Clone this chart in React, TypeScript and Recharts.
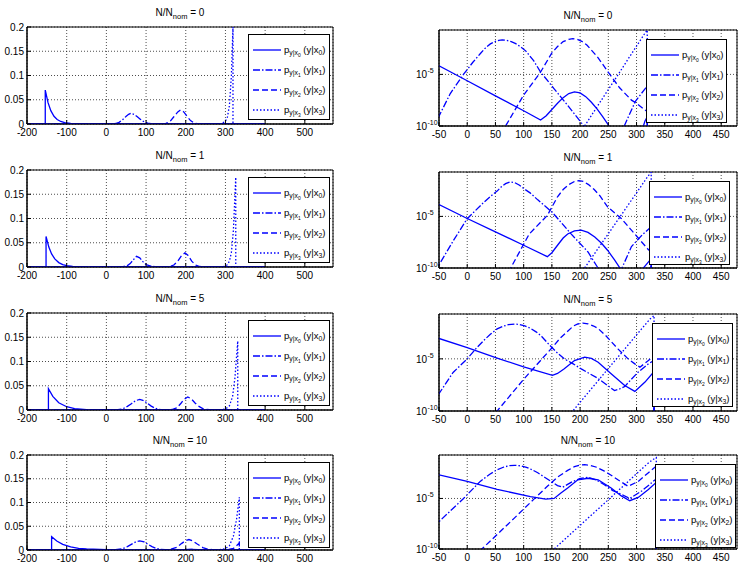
import React from "react";
import {CartesianGrid, Line, LineChart, ReferenceArea, XAxis, YAxis} from "recharts";

type Pt = [number, number];

// N/Nnom values, one per row
const ratios = ["0", "1", "5", "10"];

const linXTicks = [-200, -100, 0, 100, 200, 300, 400, 500];
const linYTicks = [0, 0.05, 0.1, 0.15, 0.2];
const logXTicks = [-50, 0, 50, 100, 150, 200, 250, 300, 350, 400, 450];
const logYTicks = [1e-10, 1e-5];

// ---- N/Nnom = 0 ----
const p0N0: Pt[] = [[-200, 0], [-154, 0], [-154, 0.07], [-147, 0.044], [-140, 0.0275], [-132, 0.016], [-124, 0.0094], [-115, 0.0052], [-105, 0.0027], [-90, 1e-3], [-70, 2.6e-4], [-50, 6.7e-5], [-25, 1.3e-5], [0, 2.4e-6], [50, 8.4e-8], [100, 3e-9], [130, 3.8e-10], [140, 1e-9], [150, 4e-9], [160, 1.6e-8], [170, 5.6e-8], [180, 1.4e-7], [190, 2e-7], [200, 1.6e-7], [210, 7e-8], [220, 2e-8], [230, 4.5e-9], [240, 8e-10], [250, 1.3e-10], [260, 1.6e-11], [280, 2e-13], [300, 1e-12], [315, 3e-10], [319, 8e-10], [319, 0], [400, 0]];
const p1N0: Pt[] = [[-200, 0], [-100, 1e-14], [-70, 5e-12], [-50, 9e-10], [-30, 1.4e-7], [-6, 1.1e-5], [10, 1.5e-4], [23, 1e-3], [32, 3.5e-3], [41, 9e-3], [50, 0.016], [56, 0.02], [62, 0.022], [70, 0.02], [78, 0.015], [86, 0.0095], [95, 0.0045], [104, 1.8e-3], [118, 2e-4], [130, 1.7e-5], [154, 4e-7], [178, 1e-8], [203, 1.8e-10], [220, 1e-11], [240, 1e-13], [270, 1e-11], [298, 2.5e-8], [315, 4e-7], [319, 7e-7], [319, 0], [400, 0]];
const p2N0: Pt[] = [[-200, 0], [40, 1e-13], [68, 1e-10], [100, 1e-7], [130, 1.7e-5], [150, 1.2e-3], [160, 5e-3], [170, 0.015], [180, 0.025], [187, 0.029], [195, 0.025], [203, 0.016], [212, 0.007], [222, 1.7e-3], [232, 4e-4], [252, 1.1e-5], [270, 5e-7], [291, 3.2e-8], [300, 1.6e-8], [315, 3.5e-9], [319, 2.5e-9], [319, 0], [400, 0]];
const p3N0: Pt[] = [[-200, 0], [180, 1e-12], [208, 1e-10], [240, 5e-8], [270, 1.6e-5], [290, 8e-4], [300, 5.5e-3], [305, 0.0145], [310, 0.038], [315, 0.1], [319, 0.2], [319, 0], [400, 0]];

// ---- N/Nnom = 1 ----
const p0N1: Pt[] = [[-200, 0], [-152, 0], [-152, 0.063], [-145, 0.041], [-138, 0.027], [-130, 0.0166], [-120, 0.0091], [-110, 0.005], [-100, 0.0027], [-85, 1.1e-3], [-70, 4.4e-4], [-50, 1.4e-4], [0, 6.3e-6], [50, 3.2e-7], [100, 1.6e-8], [142, 1.26e-9], [150, 3e-9], [160, 1.6e-8], [170, 8e-8], [178, 2e-7], [190, 4e-7], [202, 4.6e-7], [214, 2.8e-7], [226, 1e-7], [238, 2.5e-8], [249, 5e-9], [261, 6e-10], [273, 6.3e-11], [290, 1e-12], [309, 6.3e-11], [326, 8e-10], [326, 0], [400, 0]];
const p1N1: Pt[] = [[-200, 0], [-100, 1e-15], [-70, 3e-12], [-50, 2e-10], [-24, 5e-8], [0, 6e-6], [29, 2.2e-4], [45, 1.3e-3], [53, 2.8e-3], [60, 7e-3], [68, 0.015], [76, 0.022], [84, 0.019], [92, 0.011], [100, 0.005], [112, 1.8e-3], [125, 4e-4], [151, 2.4e-5], [184, 2e-7], [214, 3.6e-9], [234, 6.3e-11], [250, 1e-12], [270, 3e-11], [291, 1.2e-8], [310, 1.6e-7], [326, 1e-6], [326, 0], [400, 0]];
const p2N1: Pt[] = [[-200, 0], [50, 1e-13], [77, 1e-10], [110, 2e-7], [142, 1.26e-5], [160, 8e-4], [170, 4e-3], [180, 0.012], [190, 0.024], [198, 0.029], [206, 0.024], [215, 0.012], [225, 4e-3], [235, 1e-3], [249, 8e-5], [273, 6.3e-6], [303, 8e-8], [321, 6e-9], [326, 4e-9], [326, 0], [400, 0]];
const p3N1: Pt[] = [[-200, 0], [180, 1e-12], [208, 1e-10], [240, 3.4e-8], [270, 8e-6], [290, 3.1e-4], [300, 1.9e-3], [305, 4.8e-3], [310, 0.012], [315, 0.03], [320, 0.075], [326, 0.185], [326, 0], [400, 0]];

// ---- N/Nnom = 5 ----
const p0N5: Pt[] = [[-200, 0], [-146, 0], [-146, 0.044], [-135, 0.028], [-120, 0.015], [-100, 0.0067], [-80, 0.0029], [-50, 9e-4], [0, 1.2e-4], [53, 1.2e-5], [100, 1.7e-6], [151, 2.6e-7], [160, 4e-7], [172, 1.1e-6], [190, 6.9e-6], [208, 1.45e-5], [220, 1.1e-5], [232, 4.8e-6], [255, 3.7e-7], [279, 2.8e-8], [297, 7.6e-9], [315, 5.9e-8], [331, 6e-7], [331, 0], [400, 0]];
const p1N5: Pt[] = [[-200, 0], [-100, 1e-13], [-70, 2e-10], [-50, 4.6e-9], [-25, 5e-7], [0, 1e-5], [15, 9e-5], [29, 5.6e-4], [41, 2.3e-3], [53, 7.4e-3], [63, 0.013], [73, 0.019], [84, 0.022], [92, 0.02], [102, 0.0148], [112, 0.0085], [122, 3.9e-3], [132, 1.4e-3], [142, 3.5e-4], [157, 5e-5], [172, 1e-5], [187, 3.5e-6], [202, 1.1e-6], [232, 1.3e-7], [250, 2.5e-8], [261, 9e-9], [270, 1.3e-8], [279, 2.2e-8], [290, 1e-7], [303, 5.4e-7], [321, 3.3e-6], [331, 7e-6], [331, 0], [400, 0]];
const p2N5: Pt[] = [[-200, 0], [30, 1e-13], [53, 1e-10], [101, 1.26e-7], [130, 7e-6], [151, 1.3e-4], [165, 1e-3], [178, 4.5e-3], [188, 0.014], [196, 0.022], [205, 0.027], [214, 0.023], [224, 0.014], [232, 0.008], [245, 1.8e-3], [267, 9e-5], [285, 1e-5], [297, 3.3e-6], [306, 1.6e-6], [321, 6.9e-6], [331, 2e-5], [331, 0], [400, 0]];
const p3N5: Pt[] = [[-200, 0], [160, 1e-12], [187, 1e-10], [220, 1.35e-8], [250, 1.2e-6], [280, 1e-4], [300, 2e-3], [310, 8.6e-3], [318, 0.028], [324, 0.067], [331, 0.142], [331, 0], [400, 0]];

// ---- N/Nnom = 10 ----
const p0N10: Pt[] = [[-200, 0], [-138, 0], [-138, 0.028], [-125, 0.019], [-110, 0.012], [-90, 0.0065], [-70, 0.0036], [-50, 2.2e-3], [0, 4.9e-4], [53, 7.8e-5], [112, 1.55e-5], [139, 8.7e-6], [154, 1e-5], [166, 3.5e-5], [178, 1.1e-4], [196, 7e-4], [214, 1e-3], [232, 7e-4], [255, 1.1e-4], [273, 1.8e-5], [288, 6e-6], [303, 1.26e-5], [321, 7.8e-5], [335, 3.9e-4], [335, 0], [400, 0]];
const p1N10: Pt[] = [[-200, 0], [-120, 1e-11], [-80, 1.3e-9], [-50, 5.1e-8], [-6.5, 1e-5], [23, 4.9e-4], [40, 2.5e-3], [53, 7e-3], [65, 0.013], [75, 0.0175], [84, 0.019], [95, 0.017], [105, 0.012], [115, 7e-3], [125, 3.5e-3], [136, 1.4e-3], [148, 5e-4], [160, 1.9e-4], [169, 1.3e-4], [184, 3.9e-4], [199, 9e-4], [214, 1.26e-3], [228, 7e-4], [243, 2.3e-4], [258, 6e-5], [273, 2.6e-5], [288, 1e-5], [309, 5.4e-5], [333, 7e-4], [335, 8e-4], [335, 0], [400, 0]];
const p2N10: Pt[] = [[-200, 0], [0, 1e-13], [26, 1e-10], [55, 3.5e-9], [83, 1.07e-7], [112, 4e-6], [142, 1.6e-4], [160, 1.3e-3], [178, 6e-3], [190, 0.014], [200, 0.02], [208, 0.022], [218, 0.019], [228, 0.013], [243, 5e-3], [255, 2e-3], [267, 7e-4], [285, 1.6e-4], [303, 4.9e-4], [320, 3.2e-3], [333, 0.013], [335, 0.015], [335, 0], [400, 0]];
const p3N10: Pt[] = [[-200, 0], [120, 1e-12], [154, 1e-10], [200, 2.2e-8], [250, 7.5e-6], [280, 2.6e-4], [300, 2.8e-3], [310, 9e-3], [320, 0.029], [328, 0.065], [335, 0.111], [335, 0], [400, 0]];

const rows = [
    {ratio: ratios[0], curves: [p0N0, p1N0, p2N0, p3N0]},
    {ratio: ratios[1], curves: [p0N1, p1N1, p2N1, p3N1]},
    {ratio: ratios[2], curves: [p0N5, p1N5, p2N5, p3N5]},
    {ratio: ratios[3], curves: [p0N10, p1N10, p2N10, p3N10]}
];

const FONT = "'Liberation Sans', Arial, Helvetica, sans-serif";
const BLUE = "#0000ff";
const DASHES: (string | undefined)[] = [undefined, "7 2 1.5 2", "6 3", "1.5 2"];

// layout (page pixels)
const leftBoxTop = [27, 170, 313, 455];
const leftBoxH = [97, 97, 97, 95];
const rightBoxTop = [30, 172, 314, 455];
const rightBoxH = [96, 96, 97, 94];
const rightLegendLeft = [646, 649, 652, 655];

const sub = {fontSize: "72%", lineHeight: 0, verticalAlign: "-0.35em"};

function LegendBox({left, top, width, height}: {left: number; top: number; width: number; height: number}) {
    return (
        <div style={{
            position: "absolute", left, top, width, height, boxSizing: "border-box",
            border: "1px solid #000", background: "#fff", fontFamily: FONT, fontSize: 9.5
        }}>
            {DASHES.map((dash, i) => (
                <div key={i} style={{position: "absolute", left: 4, top: 8 + i * 20, height: 14, display: "flex", alignItems: "center"}}>
                    <svg width={28} height={6}>
                        <line x1={0} y1={3} x2={28} y2={3} stroke={BLUE} strokeWidth={1.3} strokeDasharray={dash}/>
                    </svg>
                    <span style={{marginLeft: 3, whiteSpace: "nowrap"}}>
                        p<sub style={sub}>y|x<sub style={sub}>{i}</sub></sub> (y|x<sub style={sub}>{i}</sub>)
                    </span>
                </div>
            ))}
        </div>
    );
}

function Title({cx, top, ratio}: {cx: number; top: number; ratio: string}) {
    return (
        <div style={{position: "absolute", left: cx - 60, top, width: 120, textAlign: "center", fontFamily: FONT, fontSize: 10, lineHeight: "12px"}}>
            N/N<sub style={{fontSize: "75%", lineHeight: 0, verticalAlign: "-0.4em"}}>nom</sub> = {ratio}
        </div>
    );
}

const PowTick = (props: any) => {
    const {x, y, payload} = props;
    const exp = Math.round(Math.log10(payload.value));
    return (
        <g>
            <text x={x} y={y + 4} textAnchor="end" fontSize={10} fontFamily={FONT} fill="#000">10</text>
            <text x={x + 0.5} y={y - 1} textAnchor="start" fontSize={7} fontFamily={FONT} fill="#000">{exp}</text>
        </g>
    );
};

const tickStyle = {fontSize: 10, fill: "#000", fontFamily: FONT};

function LinearPanel({curves, top, h}: {curves: Pt[][]; top: number; h: number}) {
    return (
        <div style={{position: "absolute", left: 0, top: top - 5}}>
            <LineChart width={338} height={h + 22} margin={{top: 5, right: 5, bottom: 0, left: 0}}>
                <CartesianGrid stroke="#000" strokeDasharray="1 2" strokeWidth={0.7}/>
                <XAxis type="number" dataKey="x" domain={[-200, 571]} ticks={linXTicks} interval={0}
                       allowDataOverflow height={17} tickSize={-4} tickMargin={9} stroke="#000" tick={tickStyle}/>
                <YAxis type="number" domain={[0, 0.2]} ticks={linYTicks} interval={0}
                       allowDataOverflow width={27} tickSize={-4} tickMargin={7} stroke="#000" tick={tickStyle}/>
                <ReferenceArea x1={-200} x2={571} y1={0} y2={0.2} fill="none" stroke="#000" strokeWidth={1}/>
                {curves.map((c, i) => (
                    <Line key={i} data={c.map(([x, y]) => ({x, y}))} dataKey="y" type="linear" stroke={BLUE}
                          strokeWidth={1.3} strokeDasharray={DASHES[i]} dot={false} activeDot={false}
                          isAnimationActive={false}/>
                ))}
            </LineChart>
        </div>
    );
}

function LogPanel({curves, top, h}: {curves: Pt[][]; top: number; h: number}) {
    return (
        <div style={{position: "absolute", left: 400, top: top - 5}}>
            <LineChart width={338} height={h + 22} margin={{top: 5, right: 1, bottom: 0, left: 0}}>
                <CartesianGrid stroke="#000" strokeDasharray="1 2" strokeWidth={0.7}/>
                <XAxis type="number" dataKey="x" domain={[-50, 478]} ticks={logXTicks} interval={0}
                       allowDataOverflow height={17} tickSize={-4} tickMargin={9} stroke="#000" tick={tickStyle}/>
                <YAxis type="number" scale="log" domain={[1e-10, 0.2]} ticks={logYTicks} interval={0}
                       allowDataOverflow width={39} tickSize={-4} tickMargin={16} stroke="#000" tick={<PowTick/>}/>
                <ReferenceArea x1={-50} x2={478} y1={1e-10} y2={0.2} fill="none" stroke="#000" strokeWidth={1}/>
                {curves.map((c, i) => (
                    <Line key={i} data={c.map(([x, y]) => ({x, y: Math.max(y, 1e-14)}))} dataKey="y" type="linear"
                          stroke={BLUE} strokeWidth={1.3} strokeDasharray={DASHES[i]} dot={false} activeDot={false}
                          isAnimationActive={false}/>
                ))}
            </LineChart>
        </div>
    );
}

export default function App() {
    return (
        <div style={{position: "absolute", left: 0, top: 0, width: 738, height: 567, background: "#fff", overflow: "hidden"}}>
            {rows.map((row, r) => (
                <React.Fragment key={r}>
                    <Title cx={180} top={leftBoxTop[r] - 20} ratio={row.ratio}/>
                    <LinearPanel curves={row.curves} top={leftBoxTop[r]} h={leftBoxH[r]}/>
                    <LegendBox left={248} top={leftBoxTop[r] + 7} width={82} height={86}/>
                    <Title cx={588} top={rightBoxTop[r] - 20} ratio={row.ratio}/>
                    <LogPanel curves={row.curves} top={rightBoxTop[r]} h={rightBoxH[r]}/>
                    <LegendBox left={rightLegendLeft[r]} top={rightBoxTop[r] + 9} width={81} height={84}/>
                </React.Fragment>
            ))}
        </div>
    );
}
